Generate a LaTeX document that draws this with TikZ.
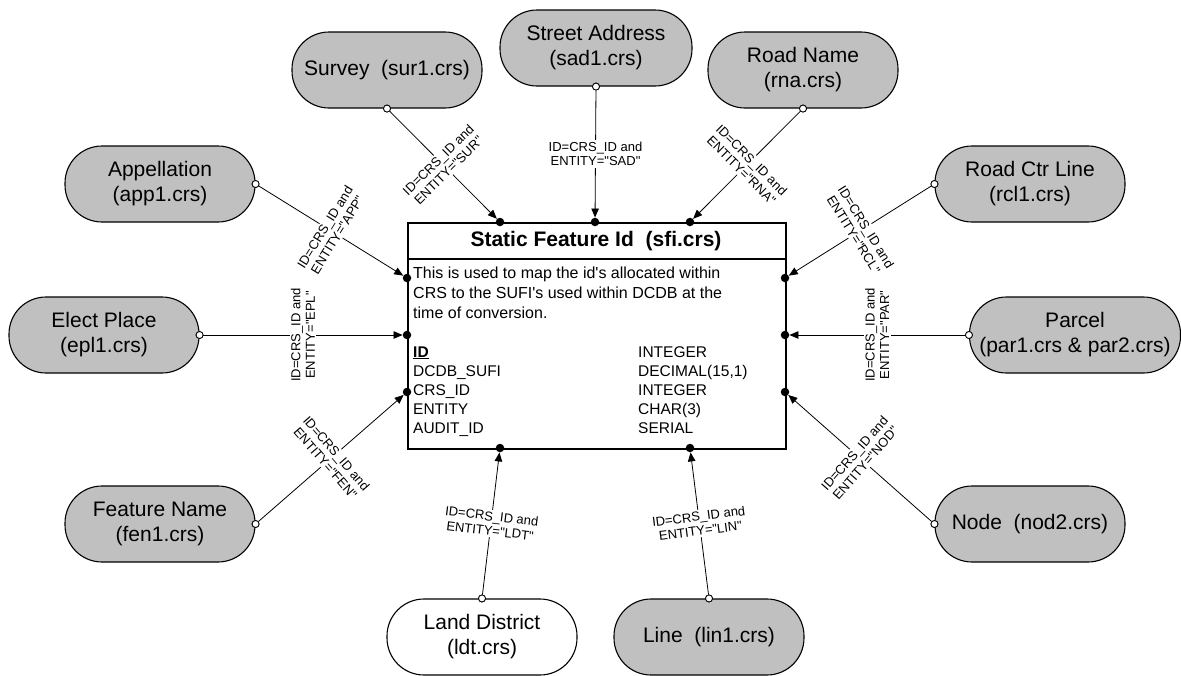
\documentclass[tikz,border=0pt]{standalone}
\usepackage{fontspec}
\setmainfont{Liberation Sans}
\newfontfamily\plainsans{Liberation Sans}
\usetikzlibrary{arrows.meta}
\definecolor{entgray}{HTML}{C0C0C0}
\begin{document}
\plainsans
\begin{tikzpicture}[x=1pt,y=-1pt,
 ent/.style={draw=black, line width=1.1pt, fill=entgray, rounded corners=37pt, minimum width=190pt, minimum height=76pt, align=center, font=\plainsans\fontsize{21}{25}\selectfont, inner sep=0pt},
 ocirc/.style={circle, draw=black, fill=white, line width=0.8pt, minimum size=7pt, inner sep=0pt},
 bdot/.style={circle, fill=black, minimum size=8.5pt, inner sep=0pt},
 conn/.style={line width=0.8pt, -{Triangle[length=9pt,width=7.5pt]}},
 lbl/.style={fill=white, align=center, inner sep=1.5pt, font=\plainsans\fontsize{13}{14.5}\selectfont}
]
\useasboundingbox (0,0) rectangle (1181,675);

% entities
\node[ent] (sur) at (387,70) {Survey\ \ (sur1.crs)};
\node[ent, minimum width=192pt] (sad) at (596,48) {Street Address\\(sad1.crs)};
\node[ent] (rna) at (803,70) {Road Name\\(rna.crs)};
\node[ent] (app) at (160,184) {Appellation\\(app1.crs)};
\node[ent] (rcl) at (1030,184) {Road Ctr Line\\(rcl1.crs)};
\node[ent] (epl) at (104,335) {Elect Place\\(epl1.crs)};
\node[ent, minimum width=211pt] (par) at (1075,335) {Parcel\\(par1.crs \& par2.crs)};
\node[ent] (fen) at (160,524) {Feature Name\\(fen1.crs)};
\node[ent] (nod) at (1030,524) {Node\ \ (nod2.crs)};
\node[ent, fill=white] (ldt) at (482,637) {Land District\\(ldt.crs)};
\node[ent] (lin) at (709,637) {Line\ \ (lin1.crs)};

% central table
\node[draw, line width=1.8pt, minimum width=378pt, minimum height=226pt, inner sep=0pt, anchor=north west, fill=white] (sfi) at (407,222) {};
\coordinate (hl) at (407,259);
\coordinate (hr) at (785,259);
\draw[line width=1.8pt] (hl) -- (hr);
\node[font=\plainsans\bfseries\fontsize{21}{25}\selectfont] (title) at (596,241) {Static Feature Id\ \ (sfi.crs)};
\node[anchor=base west, align=left, inner sep=0pt, font=\plainsans\fontsize{16}{20}\selectfont] (desc) at (413,318)
  {This is used to map the id's allocated within\\CRS to the SUFI's used within DCDB at the\\time of conversion.};
\node[anchor=base west, align=left, inner sep=0pt, font=\plainsans\fontsize{15.5}{19}\selectfont] (fields) at (413,433)
  {\underline{\textbf{ID}}\\DCDB\_SUFI\\CRS\_ID\\ENTITY\\AUDIT\_ID};
\node[anchor=base west, align=left, inner sep=0pt, font=\plainsans\fontsize{15.5}{19}\selectfont] (types) at (638,433)
  {INTEGER\\DECIMAL(15,1)\\INTEGER\\CHAR(3)\\SERIAL};

% dots on table
\node[bdot] (t1) at (500,222) {};
\node[bdot] (t2) at (595,222) {};
\node[bdot] (t3) at (690,222) {};
\node[bdot] (l1) at (407,278) {};
\node[bdot] (l2) at (407,335) {};
\node[bdot] (l3) at (407,392) {};
\node[bdot] (r1) at (785,278) {};
\node[bdot] (r2) at (785,335) {};
\node[bdot] (r3) at (785,392) {};
\node[bdot] (b1) at (500,448) {};
\node[bdot] (b2) at (690,448) {};

% open circles on entities
\node[ocirc] (csur) at (sur.south) {};
\node[ocirc] (csad) at (sad.south) {};
\node[ocirc] (crna) at (rna.south) {};
\node[ocirc] (capp) at (app.east) {};
\node[ocirc] (crcl) at (rcl.west) {};
\node[ocirc] (cepl) at (epl.east) {};
\node[ocirc] (cpar) at (par.west) {};
\node[ocirc] (cfen) at (fen.east) {};
\node[ocirc] (cnod) at (nod.west) {};
\node[ocirc] (cldt) at (ldt.north) {};
\node[ocirc] (clin) at (lin.north) {};

% connectors
\draw[conn] (csur) -- (t1) node[midway, lbl, rotate=44.7] {ID=CRS\_ID and\\ENTITY="SUR"};
\draw[conn] (csad) -- (t2) node[midway, lbl] {ID=CRS\_ID and\\ENTITY="SAD"};
\draw[conn] (crna) -- (t3) node[midway, lbl, rotate=-44.7] {ID=CRS\_ID and\\ENTITY="RNA"};
\draw[conn] (capp) -- (l1) node[midway, lbl, rotate=58.3] {ID=CRS\_ID and\\ENTITY="APP"};
\draw[conn] (crcl) -- (r1) node[midway, lbl, rotate=-58.1] {ID=CRS\_ID and\\ENTITY="RCL"};
\draw[conn] (cepl) -- (l2) node[midway, lbl, rotate=90] {ID=CRS\_ID and\\ENTITY="EPL"};
\draw[conn] (cpar) -- (r2) node[midway, lbl, rotate=90] {ID=CRS\_ID and\\ENTITY="PAR"};
\draw[conn] (cfen) -- (l3) node[midway, lbl, rotate=-49] {ID=CRS\_ID and\\ENTITY="FEN"};
\draw[conn] (cnod) -- (r3) node[midway, lbl, rotate=48.8] {ID=CRS\_ID and\\ENTITY="NOD"};
\draw[conn] (cldt) -- (b1) node[midway, lbl, rotate=-6.8] {ID=CRS\_ID and\\ENTITY="LDT"};
\draw[conn] (clin) -- (b2) node[midway, lbl, rotate=7.2] {ID=CRS\_ID and\\ENTITY="LIN"};

% redraw circles on top
\foreach \c in {csur,csad,crna,capp,crcl,cepl,cpar,cfen,cnod,cldt,clin}
  \draw[line width=0.8pt, fill=white] (\c) circle (3.5pt);
\end{tikzpicture}
\end{document}
